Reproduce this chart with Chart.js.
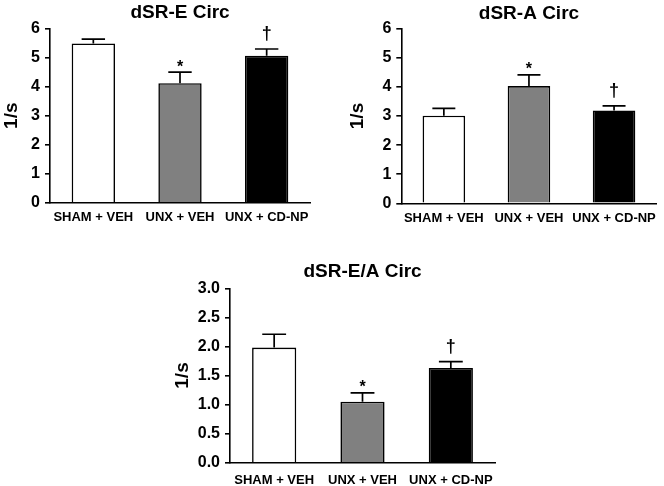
<!DOCTYPE html>
<html lang="en">
<head>
<meta charset="UTF-8">
<title>dSR Circ</title>
<style>
    body {
        margin: 0;
        background: #fff;
    }
    .wrap {
        position: relative;
        width: 664px;
        height: 486px;
        overflow: hidden;
    }
    canvas {
        position: absolute;
    }
</style>
<script src="https://cdn.jsdelivr.net/npm/chart.js"></script>
</head>
<body>
<div class="wrap">
    <canvas id="chartE" width="332" height="230" style="left:0;top:0"></canvas>
    <canvas id="chartA" width="332" height="230" style="left:332px;top:0"></canvas>
    <canvas id="chartEA" width="360" height="246" style="left:150px;top:240px"></canvas>
</div>
<script>
    // data
    const groups = ['SHAM + VEH', 'UNX + VEH', 'UNX + CD-NP'];
    const barColors = ['#ffffff', '#808080', '#000000'];

    const srE = [5.49, 4.12, 5.07];
    const srEErr = [0.15, 0.38, 0.23];
    const srEMarks = ['', '*', '†'];

    const srA = [3.01, 4.03, 3.19];
    const srAErr = [0.25, 0.38, 0.16];
    const srAMarks = ['', '*', '†'];

    const srEA = [1.98, 1.05, 1.63];
    const srEAErr = [0.23, 0.15, 0.11];
    const srEAMarks = ['', '*', '†'];

    const ticksSix = ['0', '1', '2', '3', '4', '5', '6'];
    const ticksThree = ['0.0', '0.5', '1.0', '1.5', '2.0', '2.5', '3.0'];

    const FONT = '"Liberation Sans", Arial, sans-serif';

    // upper error caps plus significance marks
    const errorBars = {
        id: 'errorBars',
        afterDatasetsDraw(chart, args, opts) {
            const ctx = chart.ctx;
            const yScale = chart.scales.y;
            const values = chart.data.datasets[0].data;
            chart.getDatasetMeta(0).data.forEach((bar, i) => {
                const top = yScale.getPixelForValue(values[i] + opts.errors[i]);
                const half = bar.width * 0.27;
                ctx.save();
                ctx.strokeStyle = '#000';
                ctx.lineWidth = 1.7;
                ctx.beginPath();
                ctx.moveTo(bar.x, bar.y);
                ctx.lineTo(bar.x, top);
                ctx.moveTo(bar.x - half, top);
                ctx.lineTo(bar.x + half, top);
                ctx.stroke();

                const mark = opts.marks[i];
                ctx.fillStyle = '#000';
                ctx.textAlign = 'center';
                ctx.textBaseline = 'alphabetic';
                if (mark === '*') {
                    ctx.font = 'bold 16px ' + FONT;
                    ctx.fillText(mark, bar.x, top - 0.5);
                } else if (mark) {
                    ctx.font = 'bold 18px ' + FONT;
                    ctx.fillText(mark, bar.x, top - 10);
                }
                ctx.restore();
            });
        }
    };

    function makeChart(id, title, values, errors, marks, tickLabels, box) {
        const yMax = parseFloat(tickLabels[tickLabels.length - 1]);
        return new Chart(document.getElementById(id), {
            type: 'bar',
            data: {
                labels: groups,
                datasets: [{
                    data: values,
                    backgroundColor: barColors,
                    borderColor: '#000',
                    borderWidth: 1.6,
                    barPercentage: 1,
                    categoryPercentage: 0.5
                }]
            },
            options: {
                responsive: false,
                animation: false,
                layout: {
                    padding: { left: box.padLeft, right: box.padRight, top: 0, bottom: 0 }
                },
                plugins: {
                    legend: { display: false },
                    tooltip: { enabled: false },
                    title: {
                        display: true,
                        text: title,
                        fullSize: false,
                        color: '#000',
                        font: { family: FONT, size: 19, weight: 'bold' },
                        padding: { top: box.titleTop, bottom: box.titleBottom }
                    },
                    errorBars: { errors: errors, marks: marks }
                },
                scales: {
                    x: {
                        grid: { display: false, drawTicks: false, tickLength: 0 },
                        border: { display: true, color: '#000', width: 1.6 },
                        ticks: {
                            color: '#000',
                            font: { family: FONT, size: 13, weight: 'bold' },
                            padding: box.xPad,
                            maxRotation: 0,
                            autoSkip: false
                        },
                        afterFit(scale) { scale.height = box.xHeight; }
                    },
                    y: {
                        min: 0,
                        max: yMax,
                        afterBuildTicks(scale) {
                            scale.ticks = tickLabels.map(t => ({ value: parseFloat(t) }));
                        },
                        ticks: {
                            color: '#000',
                            font: { family: FONT, size: 16, weight: 'bold' },
                            padding: 5,
                            callback: (v) => tickLabels.find(t => parseFloat(t) === v)
                        },
                        grid: { drawOnChartArea: false, color: '#000', lineWidth: 1.6, tickLength: 5 },
                        border: { color: '#000', width: 1.6 },
                        title: {
                            display: true,
                            text: '1/s',
                            color: '#000',
                            font: { family: FONT, size: 19, weight: 'bold' },
                            padding: 0
                        },
                        afterFit(scale) { scale.width = box.yWidth; }
                    }
                }
            },
            plugins: [errorBars]
        });
    }

    makeChart('chartE', 'dSR-E Circ', srE, srEErr, srEMarks, ticksSix,
        { padLeft: 0, yWidth: 50, padRight: 22, xHeight: 27.3, xPad: 7.4, titleTop: 1.4, titleBottom: 4.5 });
    makeChart('chartA', 'dSR-A Circ', srA, srAErr, srAMarks, ticksSix,
        { padLeft: 14.6, yWidth: 54.7, padRight: 4, xHeight: 26.7, xPad: 7, titleTop: 2.4, titleBottom: 3.5 });
    makeChart('chartEA', 'dSR-E/A Circ', srEA, srEAErr, srEAMarks, ticksThree,
        { padLeft: 21.6, yWidth: 58.4, padRight: 15, xHeight: 23.3, xPad: 10, titleTop: 20.1, titleBottom: 5.4 });
</script>
</body>
</html>
